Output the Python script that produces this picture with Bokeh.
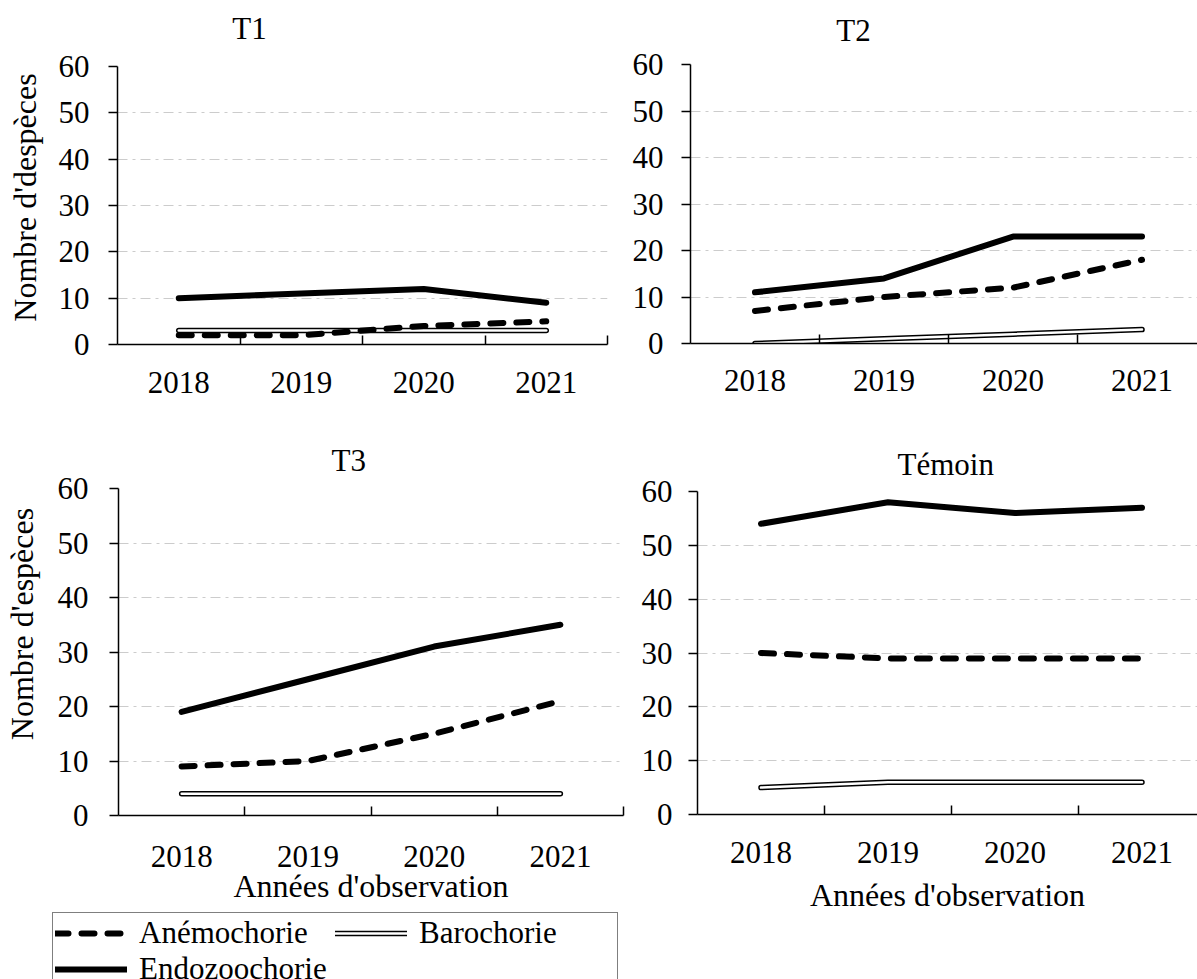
from bokeh.plotting import figure
from bokeh.models import FixedTicker, Range1d, Legend, LegendItem, Title
from bokeh.core.properties import value
from bokeh.layouts import row, column
from bokeh.embed import file_html
from bokeh.resources import INLINE

# ---- data -------------------------------------------------------------
years = ["2018", "2019", "2020", "2021"]
y_ticks = [0, 10, 20, 30, 40, 50, 60]
series_names = ["Anémochorie", "Barochorie", "Endozoochorie"]

t1_anemo = [2, 2, 4, 5]
t1_baro = [3, 3, 3, 3]
t1_endo = [10, 11, 12, 9]

t2_anemo = [7, 10, 12, 18]
t2_baro = [0, 1, 2, 3]
t2_endo = [11, 14, 23, 23]

t3_anemo = [9, 10, 15, 21]
t3_baro = [4, 4, 4, 4]
t3_endo = [19, 25, 31, 35]

tem_anemo = [30, 29, 29, 29]
tem_baro = [5, 6, 6, 6]
tem_endo = [54, 58, 56, 57]

# ---- style ------------------------------------------------------------
FONT = "Liberation Serif"
FS = "31px"
FS_XLAB = "32px"
FS_YLAB = "32px"
HEAD_H = 47          # height of the strip holding the top-row headings
LEG_H = 69           # height of the strip holding the legend
NBSP = "\u00a0"      # leading non-breaking spaces lift a y-axis title along its axis

xs = [i + 0.5 for i in range(len(years))]           # category centres
bounds = [i + 1 for i in range(len(years))]          # category boundaries


def bare_figure(width, height, left=0, right=0, **kw):
    f = figure(width=width, height=height, toolbar_location=None,
               output_backend="svg", min_border_left=left,
               min_border_right=right, min_border_top=0, min_border_bottom=0,
               outline_line_color=None, x_axis_location=None,
               y_axis_location=None, **kw)
    f.xgrid.visible = False
    f.ygrid.visible = False
    return f


def draw_series(p, anemo, baro, endo):
    r_b1 = p.line(xs, baro, line_color="black", line_width=5.5,
                  line_cap="round", line_join="round")
    r_b2 = p.line(xs, baro, line_color="white", line_width=2.5,
                  line_cap="round", line_join="round")
    r_a = p.line(xs, anemo, line_color="black", line_width=6,
                 line_dash="13 13", line_cap="round", line_join="round")
    r_e = p.line(xs, endo, line_color="black", line_width=6,
                 line_cap="round", line_join="round")
    return r_a, [r_b1, r_b2], r_e


def heading(name, width, left, right, frame_x0, frame_x1, cx, cy):
    """Strip above a panel; x in page pixels across the panel frame, y downward."""
    h = bare_figure(width, HEAD_H, left, right,
                    x_range=Range1d(frame_x0, frame_x1),
                    y_range=Range1d(HEAD_H, 0))
    h.text(x=[cx], y=[cy], text=[name], text_font=value(FONT),
           text_font_size=value(FS), text_color="black",
           text_align="center", text_baseline="middle")
    return h


def panel(anemo, baro, endo, width, height, left, right, top, bottom,
          x_end, tick_standoff, ylab_tick_standoff=16,
          ylabel=None, ylabel_standoff=13,
          xlabel=None, xlabel_standoff=0, title=None):
    p = figure(width=width, height=height,
               x_range=Range1d(0, x_end), y_range=Range1d(0, 60),
               toolbar_location=None, output_backend="svg",
               min_border_left=left, min_border_right=right,
               min_border_top=top, min_border_bottom=bottom,
               outline_line_color=None)

    if title:
        name, offset, standoff = title
        p.add_layout(Title(text=name, align="left", offset=offset,
                           standoff=standoff, text_font=FONT,
                           text_font_size=FS, text_font_style="normal",
                           text_color="black"), "above")

    xa = p.xaxis[0]
    xa.ticker = FixedTicker(ticks=xs, minor_ticks=bounds)
    xa.major_label_overrides = {x: y for x, y in zip(xs, years)}
    xa.major_tick_line_color = None
    xa.minor_tick_in = 9
    xa.minor_tick_out = 0
    xa.minor_tick_line_color = "black"
    xa.minor_tick_line_width = 1.5
    xa.major_label_standoff = tick_standoff
    if xlabel:
        xa.axis_label = xlabel
        xa.axis_label_standoff = xlabel_standoff
        xa.axis_label_text_font = FONT
        xa.axis_label_text_font_size = FS_XLAB
        xa.axis_label_text_font_style = "normal"
        xa.axis_label_text_color = "black"

    ya = p.yaxis[0]
    ya.ticker = FixedTicker(ticks=y_ticks)
    ya.major_tick_out = 9
    ya.major_tick_in = 0
    ya.major_tick_line_width = 1.5
    ya.minor_tick_line_color = None
    ya.major_label_standoff = ylab_tick_standoff
    if ylabel:
        ya.axis_label = ylabel
        ya.axis_label_standoff = ylabel_standoff
        ya.axis_label_text_font = FONT
        ya.axis_label_text_font_size = FS_YLAB
        ya.axis_label_text_font_style = "normal"
        ya.axis_label_text_color = "black"

    for ax in (xa, ya):
        ax.axis_line_color = "black"
        ax.axis_line_width = 1.5
        ax.major_label_text_font = FONT
        ax.major_label_text_font_size = FS
        ax.major_label_text_color = "black"

    p.xgrid.visible = False
    p.ygrid.grid_line_color = "#cccccc"
    p.ygrid.grid_line_width = 1
    p.ygrid.grid_line_dash = "10 5 3 5"

    rends = draw_series(p, anemo, baro, endo)
    return p, rends


# top row: canvas tops at page y = 0, panels start below the heading strip
p_t1, _ = panel(t1_anemo, t1_baro, t1_endo, 620, 425 - HEAD_H, 117, 13,
                66 - HEAD_H, 81, 4.0, 21, ylab_tick_standoff=19,
                ylabel=NBSP * 2 + "Nombre d'despèces", ylabel_standoff=13)
h_t1 = heading("T1", 620, 117, 13, 117, 607, 249, 28)

p_t2, _ = panel(t2_anemo, t2_baro, t2_endo, 577, 425 - HEAD_H, 70, 0,
                64 - HEAD_H, 82, 3.93, 20, ylab_tick_standoff=18)
h_t2 = heading("T2", 577, 70, 0, 690, 1197, 853, 30)

# bottom row: canvas tops at page y = 425
p_t3, _ = panel(t3_anemo, t3_baro, t3_endo, 636, 554 - LEG_H, 108, 13,
                488 - 425, 979 - LEG_H - 815, 4.0, 24, ylab_tick_standoff=21,
                ylabel=NBSP * 7 + "Nombre d'espèces", ylabel_standoff=15,
                xlabel="Années d'observation", xlabel_standoff=-2,
                title=("T3", 213, 21))

p_tem, _ = panel(tem_anemo, tem_baro, tem_endo, 561, 554, 61, 0,
                 491 - 425, 165, 3.937, 21, ylab_tick_standoff=16,
                 xlabel="Années d'observation", xlabel_standoff=11,
                 title=("Témoin", 200, 19))

# ---- legend strip under T3 ----------------------------------------------
p_leg = bare_figure(636, LEG_H, x_range=Range1d(100, 101), y_range=Range1d(0, 1))
# the series are kept off-canvas here; only their legend keys are shown
l_a, l_b, l_e = draw_series(p_leg, t3_anemo, t3_baro, t3_endo)

legend = Legend(items=[LegendItem(label=series_names[0], renderers=[l_a]),
                       LegendItem(label=series_names[2], renderers=[l_e]),
                       LegendItem(label=series_names[1], renderers=l_b)],
                ncols=2, location=(52, -11),
                label_text_font=FONT, label_text_font_size=FS,
                label_text_color="black", label_text_baseline="middle",
                label_width=196, label_height=26, label_standoff=12,
                glyph_width=72, glyph_height=26,
                spacing=0, padding=2, margin=0,
                border_line_color="black", border_line_width=1.5,
                background_fill_color="white", background_fill_alpha=1.0)
p_leg.add_layout(legend)

layout = column(row(column(h_t1, p_t1), column(h_t2, p_t2)),
                row(column(p_t3, row(p_leg)), p_tem))

open("out.html", "w").write(file_html(layout, INLINE))
